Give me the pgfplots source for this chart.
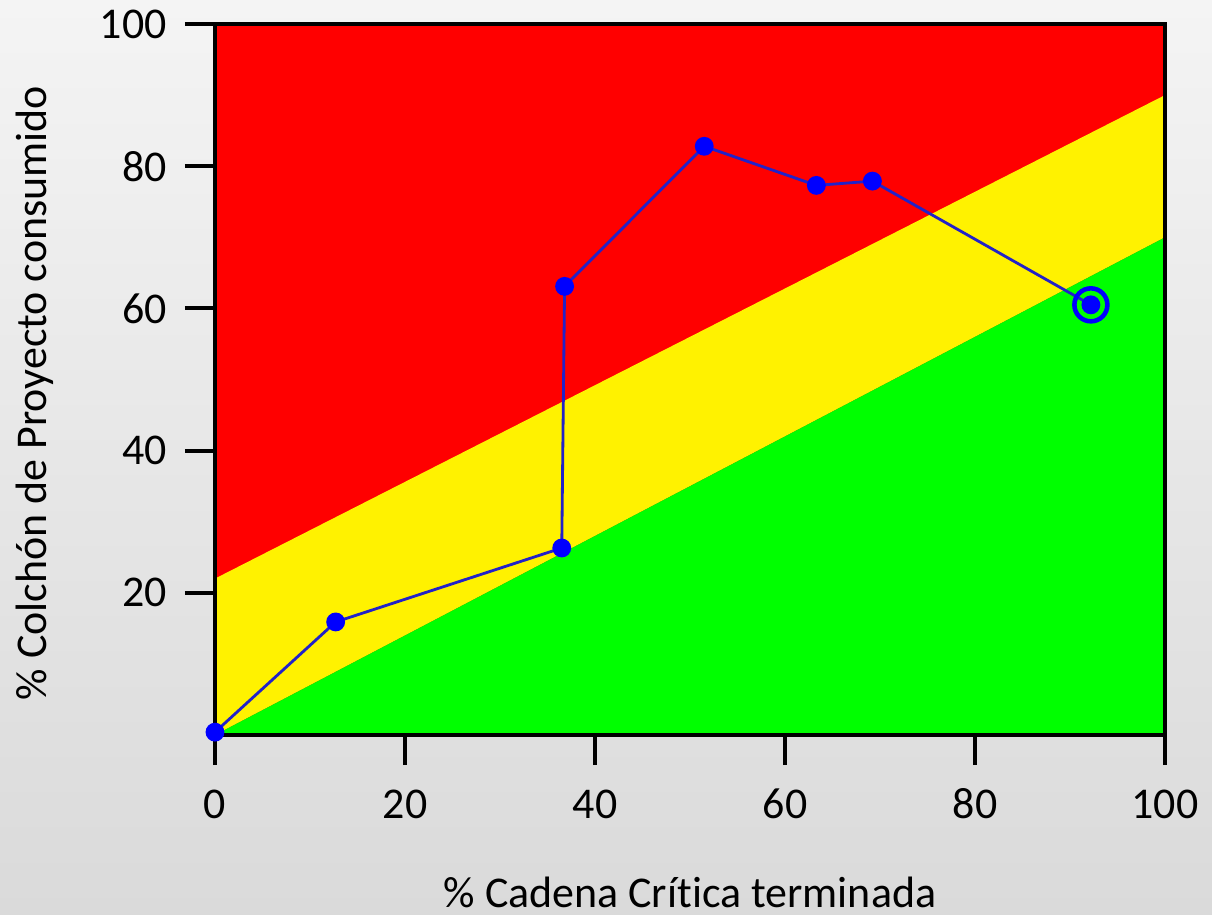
\documentclass[border=0pt]{standalone}
\usepackage{fontspec}
\setmainfont{Carlito}[Ligatures={NoCommon}, Numbers={Lining}]
\usepackage{pgfplots}
\pgfplotsset{compat=1.18}
\definecolor{bgtop}{HTML}{F4F4F4}
\definecolor{bgbot}{HTML}{DADADA}
\definecolor{lineblue}{HTML}{2222C8}
\begin{document}
\begin{tikzpicture}
\shade[top color=bgtop, bottom color=bgbot] (-21.5mm,-18mm) rectangle (99.7mm,73.5mm);
\useasboundingbox (-21.5mm,-18mm) rectangle (99.7mm,73.5mm);
\begin{axis}[
  at={(0,0)}, anchor=south west,
  scale only axis, width=95mm, height=71.1mm,
  xmin=0, xmax=100, ymin=0, ymax=100,
  axis background/.style={fill=red},
  axis line style={line width=1.2pt, black},
  axis on top,
  tick pos=left, tick align=outside,
  major tick length=3mm,
  tick style={line width=1.1pt, black},
  xtick={0,20,40,60,80,100}, ytick={20,40,60,80,100},
  /pgf/number format/assume math mode=true,
  tick label style={font=\fontsize{12.5}{15}\selectfont},
  xticklabel style={yshift=-1.2mm, text height=2.9mm},
  yticklabel style={xshift=-0.6mm},
  label style={font=\fontsize{12.5}{15}\selectfont},
  xlabel={\% Cadena Crítica terminada},
  ylabel={\% Colchón de Proyecto consumido},
  x label style={at={(axis description cs:0.5,-0.222)}, anchor=center},
  y label style={at={(axis description cs:-0.1895,0.481)}, anchor=center, rotate=0},
  clip=false,
]
\addplot[fill=yellow, draw=none] coordinates {(0,0) (100,70) (100,90) (0,22) (0,0)};
\addplot[fill=green, draw=none] coordinates {(0,0) (100,0) (100,70) (0,0)};
\addplot[color=lineblue, line width=0.8pt, mark=*, mark size=0.8mm,
  mark options={fill=blue, draw=blue}] coordinates {
  (0,0.4) (12.7,15.9) (36.5,26.3) (36.8,63.1) (51.5,82.8) (63.3,77.3) (69.2,77.9) (92.2,60.5)
};
\addplot[draw=none, mark=o, mark size=1.65mm, mark options={draw=blue, line width=1.3pt}] coordinates {(92.2,60.5)};
\end{axis}
\end{tikzpicture}
\end{document}
